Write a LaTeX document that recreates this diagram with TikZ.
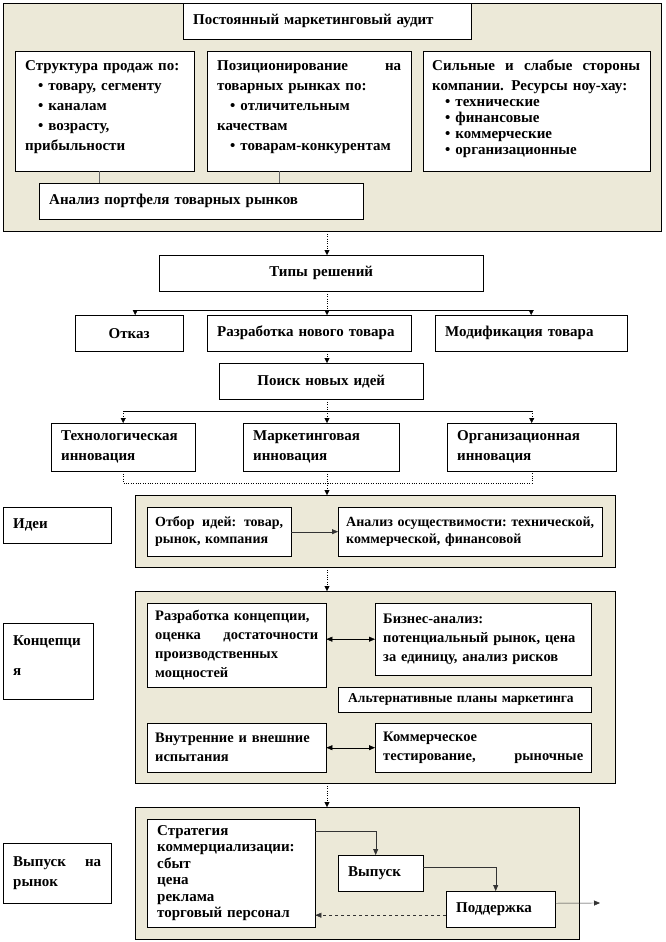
\documentclass[tikz,border=0pt]{standalone}
\usepackage{fontspec}
\setmainfont{Liberation Serif}
\usetikzlibrary{arrows.meta, calc}
\definecolor{panelbeige}{RGB}{236,233,216}
\newcommand{\itm}[1]{\hspace*{13pt}\textbullet\hspace{5pt}#1}

\begin{document}
\begin{tikzpicture}[
    x=1pt, y=-1pt,
    txt/.style={inner sep=0pt, anchor=north west, align=left, font={\bfseries\fontsize{15}{20}\selectfont}},
    box/.style={rectangle, draw, fill=white, anchor=north west, inner xsep=10pt, inner ysep=0pt, align=left, font={\bfseries\fontsize{15}{20}\selectfont}},
    cbox/.style={box, align=center},
    tight/.style={inner xsep=8pt, font={\bfseries\fontsize{14.5}{19}\selectfont}},
    panel/.style={rectangle, draw, fill=panelbeige, anchor=north west, inner sep=0pt},
    arrow/.style={-{Triangle[length=5pt, width=5pt]}, dotted},
    dotline/.style={dotted},
    link/.style={draw=black!60},
    arrowline/.style={-{Triangle[length=6pt, width=5pt]}, black!80},
    twoway/.style={{Triangle[length=6pt, width=5pt]}-{Triangle[length=6pt, width=5pt]}}
]
\fill[white] (0,0) rectangle (666,942);
\useasboundingbox (0,0) rectangle (666,942);
\coordinate (spine) at (327,0);

% Marketing audit
\node[panel, minimum width=658, minimum height=228] (audit) at (3,3) {};
\node[box, text width=268, minimum height=36] (header) at (183,3) {Постоянный маркетинговый аудит};

\node[box, minimum width=179, minimum height=120] (sales) at (15,51) {};
\node[txt, text width=159] (salestext) at (25,60) {Структура продаж по:\\ \itm{товару, сегменту}\\ \itm{каналам}\\ \itm{возрасту,}\\ прибыльности};

\node[box, minimum width=204, minimum height=120] (position) at (207,51) {};
\node[txt, text width=184] (positiontext) at (217,60) {Позиционирование\hfill на\\ товарных рынках по:\\ \itm{отличительным}\\ качествам\\ \itm{товарам-конкурентам}};

\node[box, minimum width=227, minimum height=120] (strength) at (423,51) {};
\node[txt, text width=208] (strengthtext) at (432,60) {Сильные\hfill и\hfill слабые\hfill стороны\\ компании. Ресурсы ноу-хау:\\[-4pt] \itm{технические}\\[-4pt] \itm{финансовые}\\[-4pt] \itm{коммерческие}\\[-4pt] \itm{организационные}};

\node[box, text width=304, minimum height=36] (portfolio) at (39,183) {Анализ портфеля товарных рынков};
\draw[link] ([xshift=84]sales.south west) -- ([xshift=84]sales.south west |- portfolio.north);
\draw[link] ([xshift=72]position.south west) -- ([xshift=72]position.south west |- portfolio.north);

% Decisions
\node[cbox, text width=304, minimum height=36] (types) at (159,255) {Типы решений};
\draw[arrow] (audit.south -| spine) -- (types.north -| spine);

\coordinate (forkA) at (0,310);
\node[cbox, text width=88, minimum height=36] (refuse) at (75,315) {Отказ};
\node[box, text width=184, minimum height=36] (newprod) at (207,315) {Разработка нового товара};
\node[box, text width=172, minimum height=36] (modify) at (435,315) {Модификация товара};
\draw[dotline] (types.south -| spine) -- (forkA -| spine);
\draw ([xshift=6]refuse.north |- forkA) -- (modify.north |- forkA);
\draw[arrow] ([xshift=6]refuse.north |- forkA) -- ([xshift=6]refuse.north);
\draw[arrow] (forkA -| spine) -- (newprod.north -| spine);
\draw[arrow] (modify.north |- forkA) -- (modify.north);

% Search for ideas
\node[cbox, text width=184, minimum height=36] (search) at (219,363) {Поиск новых идей};
\draw[arrow] (newprod.south -| spine) -- (search.north -| spine);

\coordinate (forkB) at (0,411);
\node[box, text width=124, minimum height=48] (techinno) at (51,423) {Технологическая\\ инновация};
\node[box, text width=136, minimum height=48] (markinno) at (243,423) {Маркетинговая\\ инновация};
\node[box, text width=149, minimum height=48] (orginno) at (447,423) {Организационная\\ инновация};
\draw[dotline] (search.south -| spine) -- (forkB -| spine);
\draw (forkB -| techinno.north) -- (forkB -| orginno.north);
\draw[arrow] (forkB -| techinno.north) -- (techinno.north);
\draw[arrow] (forkB -| spine) -- (markinno.north -| spine);
\draw[arrow] (forkB -| orginno.north) -- (orginno.north);

\coordinate (joinB) at (0,483);
\draw[dotline] (techinno.south) -- (techinno.south |- joinB) -- (orginno.south |- joinB) -- (orginno.south);
\draw[dotline] (markinno.south -| spine) -- (joinB -| spine);

% Ideas
\node[panel, minimum width=480, minimum height=72] (ideas) at (135,495) {};
\node[box, text width=88, minimum height=36] (ideaslabel) at (3,507) {Идеи};
\node[box, tight, text width=128, minimum height=49, font={\bfseries\fontsize{14}{17}\selectfont}] (selection) at (147,507) {Отбор\hfill идей:\hfill товар,\\ рынок, компания};
\node[box, tight, text width=248, minimum height=49, font={\bfseries\fontsize{14}{17}\selectfont}] (feasible) at (338,507) {Анализ\hfill осуществимости:\hfill технической,\\ коммерческой, финансовой};
\draw[arrow] (joinB -| spine) -- (ideas.north -| spine);
\draw[arrowline] (selection.east) -- (feasible.west);

% Concept
\node[panel, minimum width=480, minimum height=192] (concept) at (135,591) {};
\draw[arrow] (ideas.south -| spine) -- (concept.north -| spine);
\node[box, text width=70, minimum height=76] (conceptlabel) at (3,623) {Концепци\\[10pt] я\\[-8pt]\mbox{}};
\node[box, tight, text width=163, minimum height=84] (devconcept) at (147,603) {Разработка концепции,\\ оценка\hfill достаточности\\ производственных\\ мощностей};
\node[box, tight, text width=200, minimum height=72] (business) at (375,603) {Бизнес-анализ:\\ потенциальный рынок, цена\\ за единицу, анализ рисков};
\node[box, text width=233, minimum height=25, font={\bfseries\fontsize{13.5}{17}\selectfont}] (altplans) at (338,687) {Альтернативные планы маркетинга};
\node[box, tight, text width=163, minimum height=49] (tests) at (147,723) {Внутренние и внешние\\ испытания};
\node[box, tight, text width=200, minimum height=49] (commtest) at (375,723) {Коммерческое\\ тестирование,\hfill рыночные};
\draw[twoway] (business.west -| devconcept.east) -- (business.west);
\draw[twoway] (tests.east) -- (commtest.west);

% Market launch
\node[panel, minimum width=444, minimum height=132] (release) at (135,807) {};
\draw[arrow] (concept.south -| spine) -- (release.north -| spine);
\node[box, text width=88, minimum height=60] (releaselabel) at (3,843) {Выпуск\hfill на\\ рынок};
\node[box, text width=148, minimum height=108, font={\bfseries\fontsize{15}{16.5}\selectfont}] (strategy) at (147,819) {Стратегия\\ коммерциализации:\\ сбыт\\ цена\\ реклама\\ торговый персонал};
\node[box, text width=65, minimum height=36] (launch) at (338,855) {Выпуск};
\node[box, text width=89, minimum height=36] (support) at (446,891) {Поддержка};
\coordinate (market) at (600,903);
\draw[arrowline] ([yshift=-12]strategy.north east) -| ([xshift=-5]launch.north);
\draw[arrowline] ([yshift=6]launch.east) -| ([xshift=-5]support.north);
\draw[arrowline] ([yshift=6]support.east) -- (market);
\draw[arrowline, dashed] ([yshift=-6]support.west) -- ([yshift=-6]support.west -| strategy.east);

\end{tikzpicture}
\end{document}
